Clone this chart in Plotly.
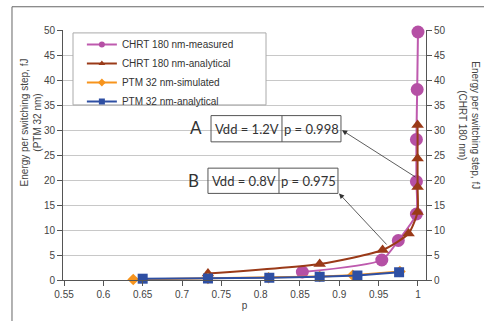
import plotly.graph_objects as go

# ---- data ----
p_chrt_meas = [0.853, 0.954, 0.975, 0.998, 0.998, 0.998, 0.999, 1.000]
e_chrt_meas = [1.6, 4.0, 7.9, 13.2, 19.7, 28.1, 38.1, 49.6]

p_chrt_anal = [0.733, 0.875, 0.955, 0.988, 0.9995, 0.9995, 0.9995, 0.9995]
e_chrt_anal = [1.3, 3.2, 6.0, 9.3, 13.6, 18.6, 24.3, 31.0]

p_ptm_sim = [0.638, 0.733, 0.810, 0.875, 0.917, 0.977]
e_ptm_sim = [0.1, 0.3, 0.45, 0.7, 0.95, 1.7]

p_ptm_anal = [0.650, 0.733, 0.811, 0.875, 0.923, 0.976]
e_ptm_anal = [0.26, 0.3, 0.45, 0.65, 0.9, 1.55]

series_names = ["CHRT 180 nm-measured", "CHRT 180 nm-analytical", "PTM 32 nm-simulated", "PTM 32 nm-analytical"]

x_ticks = [0.55, 0.6, 0.65, 0.7, 0.75, 0.8, 0.85, 0.9, 0.95, 1.0]
x_tick_labels = ["0.55", "0.6", "0.65", "0.7", "0.75", "0.8", "0.85", "0.9", "0.95", "1"]
y_ticks = [0, 5, 10, 15, 20, 25, 30, 35, 40, 45, 50]

FONT = "Arial, Liberation Sans, sans-serif"
BOXFONT = "Lato, Open Sans, sans-serif"

colors = ["#B550A5", "#9A3A18", "#F7941D", "#2E4FA3"]
line_colors = ["#BE5AAE", "#9A3A18", "#F7941D", "#2E4FA3"]
symbols = ["circle", "triangle-up", "diamond", "square"]
sizes = [13, 11, 9, 10]
shapes_line = ["spline", "spline", "linear", "linear"]
xs = [p_chrt_meas, p_chrt_anal, p_ptm_sim, p_ptm_anal]
ys = [e_chrt_meas, e_chrt_anal, e_ptm_sim, e_ptm_anal]

fig = go.Figure()
for i in range(4):
    fig.add_trace(go.Scatter(x=xs[i], y=ys[i], name=series_names[i], mode="lines+markers",
                             line=dict(color=line_colors[i], width=2, shape=shapes_line[i], smoothing=0.6),
                             marker=dict(symbol=symbols[i], size=sizes[i], color=colors[i]),
                             cliponaxis=False, showlegend=False))
# legend-only entries with small markers (as in the reference legend)
for i in range(4):
    fig.add_trace(go.Scatter(x=[None], y=[None], name=series_names[i], mode="lines+markers",
                             line=dict(color=line_colors[i], width=2),
                             marker=dict(symbol=symbols[i], size=6, color=colors[i]), showlegend=True))
# invisible trace to activate the right axis
fig.add_trace(go.Scatter(x=[0.6], y=[0], yaxis="y2", mode="markers",
                         marker=dict(opacity=0), showlegend=False, hoverinfo="skip"))

axis_common = dict(showline=True, linecolor="#555", linewidth=1, ticks="outside", ticklen=5,
                   tickcolor="#555", tickfont=dict(family=FONT, size=10, color="#444"))

fig.update_layout(
    width=484, height=321,
    margin=dict(l=63, r=58, t=30, b=34),
    paper_bgcolor="white", plot_bgcolor="white",
    font=dict(family=FONT, size=10, color="#444"),
    xaxis=dict(range=[0.5487, 1.0102], tickvals=x_ticks, ticktext=x_tick_labels, showgrid=False,
               zeroline=False, title=dict(text="p", font=dict(size=10), standoff=2), **axis_common),
    yaxis=dict(range=[0, 50], tickvals=y_ticks, showgrid=True, gridcolor="#C8C8C8", gridwidth=1,
               zeroline=False, **axis_common),
    yaxis2=dict(range=[0, 50], tickvals=y_ticks, overlaying="y", side="right", showgrid=False,
                zeroline=False, **axis_common),
    showlegend=True,
    legend=dict(x=0.052, y=1.0, xanchor="left", yanchor="top", bgcolor="rgba(0,0,0,0)",
                borderwidth=0, font=dict(family=FONT, size=10, color="#333"), tracegroupgap=0),
)

shapes = []
# outer border
shapes.append(dict(type="rect", xref="paper", yref="paper", x0=-0.1405, x1=1.4, y0=-0.3, y1=1.093,
                   line=dict(color="#666", width=1), fillcolor="rgba(0,0,0,0)", layer="below"))
# legend box
shapes.append(dict(type="rect", xref="paper", yref="paper", x0=(73 - 63) / 363, x1=(266 - 63) / 363,
                   y0=(287 - 107) / 257, y1=(287 - 33) / 257,
                   line=dict(color="#AAA", width=1), fillcolor="white", layer="above"))
# annotation boxes
for (x0, xm, x1, y0, y1) in [(0.7369, 0.8271, 0.9021, 27.63, 32.88), (0.7330, 0.8233, 0.8983, 17.32, 22.37)]:
    shapes.append(dict(type="rect", xref="x", yref="y", x0=x0, x1=x1, y0=y0, y1=y1,
                       line=dict(color="#555", width=1)))
    shapes.append(dict(type="line", xref="x", yref="y", x0=xm, x1=xm, y0=y0, y1=y1,
                       line=dict(color="#555", width=1)))
fig.update_layout(shapes=shapes)

box_font = dict(family=BOXFONT, size=13, color="#333")
ann = []
ann.append(dict(text="Vdd = 1.2V", x=0.7826, y=30.2, xref="x", yref="y", showarrow=False, font=box_font))
ann.append(dict(text="p = 0.998", x=0.8652, y=30.2, xref="x", yref="y", showarrow=False, font=box_font))
ann.append(dict(text="Vdd = 0.8V", x=0.7788, y=19.9, xref="x", yref="y", showarrow=False, font=box_font))
ann.append(dict(text="p = 0.975", x=0.8602, y=19.9, xref="x", yref="y", showarrow=False, font=box_font))
ann.append(dict(text="A", x=0.7178, y=30.5, xref="x", yref="y", showarrow=False,
                font=dict(family=BOXFONT, size=17, color="#333")))
ann.append(dict(text="B", x=0.7152, y=20.0, xref="x", yref="y", showarrow=False,
                font=dict(family=BOXFONT, size=17, color="#333")))
# arrows
ann.append(dict(text="", x=0.9034, y=29.96, ax=0.9987, ay=20.4, xref="x", yref="y", axref="x", ayref="y",
                showarrow=True, arrowhead=2, arrowsize=1.3, arrowwidth=0.8, arrowcolor="#333"))
ann.append(dict(text="", x=0.8996, y=17.3, ax=0.9619, ay=6.8, xref="x", yref="y", axref="x", ayref="y",
                showarrow=True, arrowhead=2, arrowsize=1.3, arrowwidth=0.8, arrowcolor="#333"))
# axis titles
ann.append(dict(text="Energy per switching step, fJ<br>(PTM 32 nm)", x=(31 - 63) / 363, y=(287 - 125) / 257,
                xref="paper", yref="paper", xanchor="center", yanchor="middle", showarrow=False, textangle=-90,
                font=dict(family=FONT, size=10, color="#444")))
ann.append(dict(text="Energy per switching step, fJ<br>(CHRT 180 nm)", x=(469 - 63) / 363, y=(287 - 128) / 257,
                xref="paper", yref="paper", xanchor="center", yanchor="middle", showarrow=False, textangle=90,
                font=dict(family=FONT, size=10, color="#444")))
fig.update_layout(annotations=ann)

fig.write_html("out.html")
